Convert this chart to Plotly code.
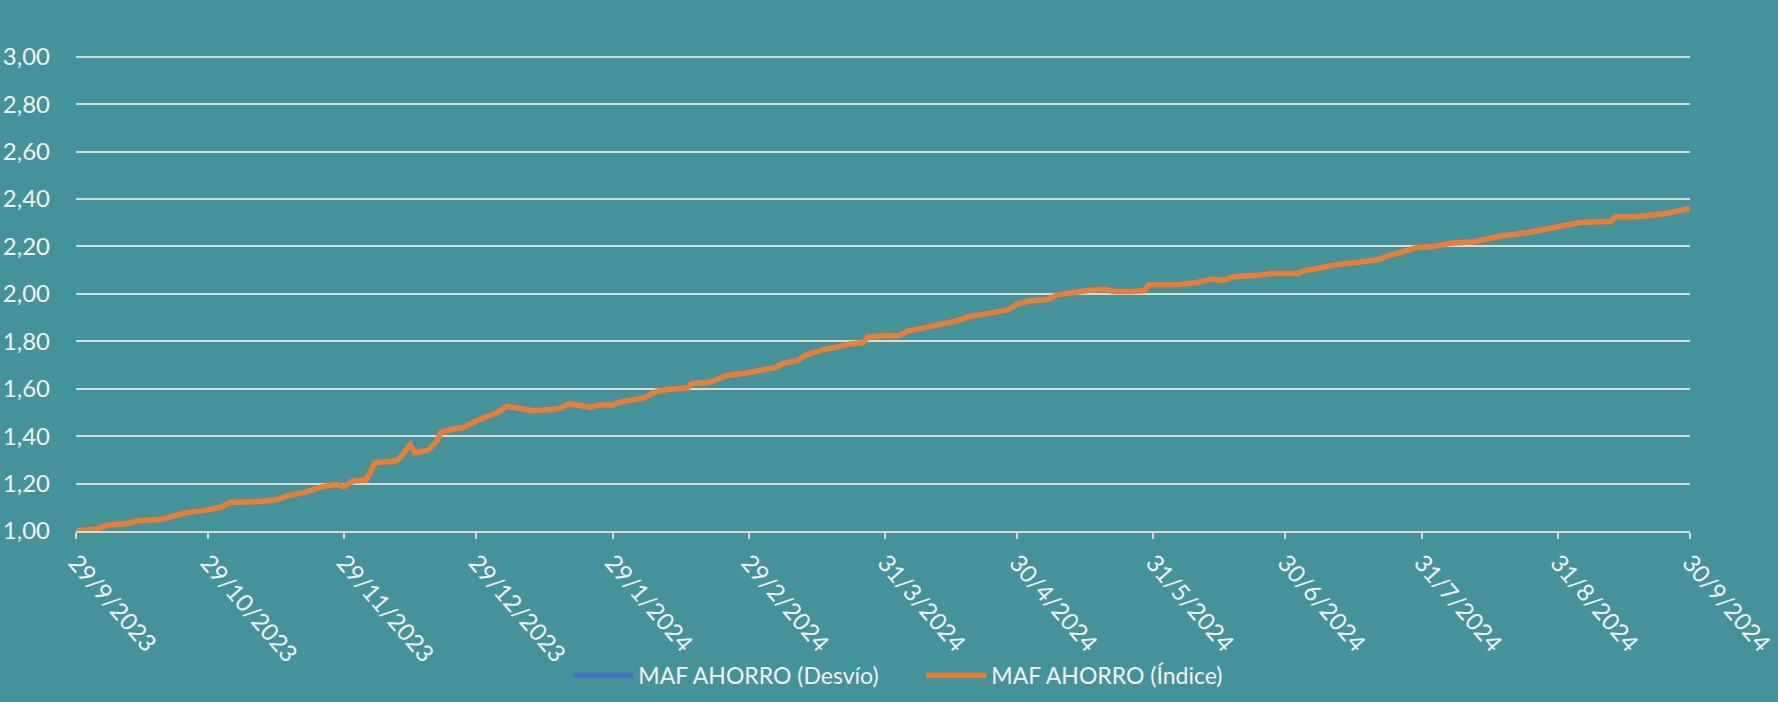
import plotly.graph_objects as go

# ---- data ----
dates = [
    "2023-09-29", "2023-10-04", "2023-10-06", "2023-10-11", "2023-10-13", "2023-10-18",
    "2023-10-20", "2023-10-24", "2023-10-28", "2023-11-01", "2023-11-03", "2023-11-10",
    "2023-11-14", "2023-11-16", "2023-11-20", "2023-11-24", "2023-11-27", "2023-11-29",
    "2023-12-01", "2023-12-04", "2023-12-06", "2023-12-11", "2023-12-12", "2023-12-14",
    "2023-12-15", "2023-12-18", "2023-12-20", "2023-12-21", "2023-12-24", "2023-12-26",
    "2023-12-29", "2024-01-01", "2024-01-03", "2024-01-05", "2024-01-08", "2024-01-11",
    "2024-01-15", "2024-01-17", "2024-01-19", "2024-01-21", "2024-01-24", "2024-01-26",
    "2024-01-29", "2024-01-31", "2024-02-05", "2024-02-08", "2024-02-11", "2024-02-15",
    "2024-02-16", "2024-02-20", "2024-02-22", "2024-02-24", "2024-02-28", "2024-03-03",
    "2024-03-06", "2024-03-08", "2024-03-11", "2024-03-13", "2024-03-17", "2024-03-20",
    "2024-03-23", "2024-03-26", "2024-03-27", "2024-03-31", "2024-04-03", "2024-04-05",
    "2024-04-10", "2024-04-12", "2024-04-16", "2024-04-19", "2024-04-23", "2024-04-25",
    "2024-04-28", "2024-04-30", "2024-05-03", "2024-05-07", "2024-05-09", "2024-05-12",
    "2024-05-16", "2024-05-20", "2024-05-22", "2024-05-26", "2024-05-29", "2024-05-30",
    "2024-06-05", "2024-06-10", "2024-06-13", "2024-06-16", "2024-06-18", "2024-06-23",
    "2024-06-27", "2024-07-03", "2024-07-04", "2024-07-08", "2024-07-12", "2024-07-17",
    "2024-07-21", "2024-07-23", "2024-07-27", "2024-07-30", "2024-08-03", "2024-08-07",
    "2024-08-12", "2024-08-15", "2024-08-18", "2024-08-24", "2024-08-27", "2024-08-30",
    "2024-09-02", "2024-09-05", "2024-09-12", "2024-09-13", "2024-09-18", "2024-09-21",
    "2024-09-25", "2024-09-27", "2024-09-30",
]
indice = [
    1.000, 1.010, 1.024, 1.033, 1.043, 1.048,
    1.057, 1.077, 1.086, 1.100, 1.120, 1.124,
    1.134, 1.148, 1.163, 1.187, 1.196, 1.187,
    1.211, 1.215, 1.287, 1.297, 1.316, 1.364,
    1.330, 1.340, 1.378, 1.416, 1.431, 1.435,
    1.464, 1.488, 1.502, 1.526, 1.517, 1.507,
    1.512, 1.517, 1.536, 1.531, 1.522, 1.531,
    1.531, 1.545, 1.560, 1.589, 1.598, 1.603,
    1.622, 1.627, 1.641, 1.656, 1.665, 1.679,
    1.689, 1.708, 1.718, 1.742, 1.766, 1.775,
    1.789, 1.794, 1.818, 1.823, 1.823, 1.842,
    1.861, 1.871, 1.885, 1.904, 1.914, 1.923,
    1.933, 1.957, 1.971, 1.976, 1.995, 2.005,
    2.014, 2.019, 2.010, 2.010, 2.014, 2.038,
    2.038, 2.048, 2.062, 2.057, 2.072, 2.077,
    2.086, 2.086, 2.096, 2.110, 2.124, 2.134,
    2.144, 2.158, 2.182, 2.196, 2.201, 2.215,
    2.220, 2.234, 2.244, 2.258, 2.268, 2.278,
    2.287, 2.301, 2.306, 2.325, 2.325, 2.330,
    2.340, 2.349, 2.359,
]
desvio_dates = ["2023-09-29"]
desvio = [None]

tick_dates = ["2023-09-29", "2023-10-29", "2023-11-29", "2023-12-29", "2024-01-29",
              "2024-02-29", "2024-03-31", "2024-04-30", "2024-05-31", "2024-06-30",
              "2024-07-31", "2024-08-31", "2024-09-30"]
tick_labels = ["29/9/2023", "29/10/2023", "29/11/2023", "29/12/2023", "29/1/2024",
               "29/2/2024", "31/3/2024", "30/4/2024", "31/5/2024", "30/6/2024",
               "31/7/2024", "31/8/2024", "30/9/2024"]

BG = "rgb(69,147,154)"
TXT = "#F4F4F4"
GRID = "#D9D9D9"
FONT = "Lato, 'Open Sans', sans-serif"

fig = go.Figure()
fig.add_trace(go.Scatter(x=desvio_dates, y=desvio, mode="lines",
                         name="MAF AHORRO (Desvío)",
                         line=dict(color="#4472C4", width=5.5), showlegend=True))
fig.add_trace(go.Scatter(x=dates, y=indice, mode="lines",
                         name="MAF AHORRO (Índice)",
                         line=dict(color="#ED7D31", width=5.5)))

fig.update_layout(
    width=1778, height=702,
    paper_bgcolor=BG, plot_bgcolor=BG,
    margin=dict(l=76, r=88, t=52, b=171),
    font=dict(family=FONT, size=24, color=TXT),
    separators=",.",
    showlegend=True,
    legend=dict(orientation="h", x=0.305, xanchor="left",
                yref="container", y=0.038, yanchor="middle",
                font=dict(size=23, color=TXT), itemwidth=60,
                entrywidth=278, entrywidthmode="pixels",
                bgcolor="rgba(0,0,0,0)"),
)
fig.update_xaxes(
    type="date", range=["2023-09-29", "2024-09-30"], automargin=False,
    tickmode="array", tickvals=tick_dates, ticktext=tick_labels,
    tickangle=49, showgrid=False, zeroline=False, ticklabeloverflow="allow",
    showline=True, linecolor=GRID, linewidth=2,
    ticks="outside", ticklen=6, tickcolor=GRID, tickwidth=1.5,
    tickfont=dict(size=24, color=TXT, family=FONT),
)
fig.update_yaxes(
    range=[1, 3.02], dtick=0.2, tick0=1, tickformat=".2f", automargin=False,
    showgrid=True, gridcolor=GRID, gridwidth=1.5,
    zeroline=False, showline=False, ticks="",
    ticklabelstandoff=25,
    tickfont=dict(size=24, color=TXT, family=FONT),
)

fig.write_html("out.html", config={"displayModeBar": False},
               post_script="document.body.style.margin='0';document.body.style.background='" + BG + "';")
